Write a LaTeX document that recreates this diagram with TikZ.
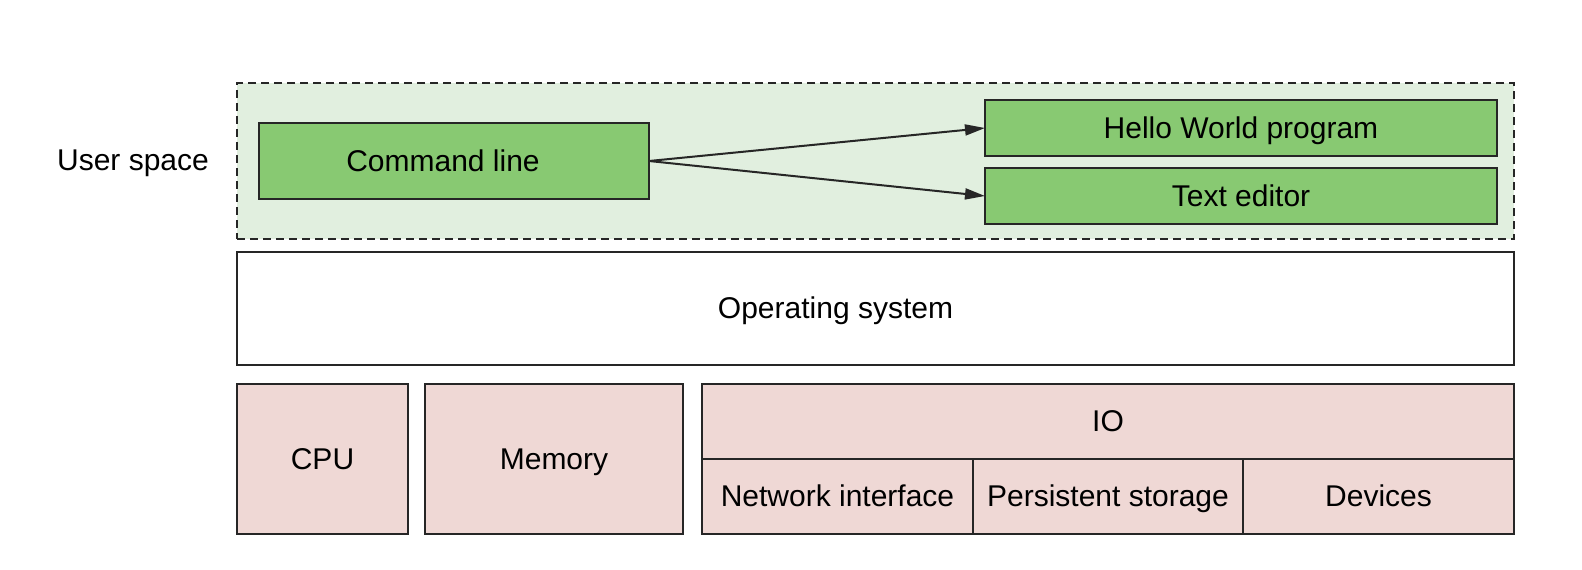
\documentclass[tikz,border=0pt]{standalone}
\usepackage{fontspec}
\setmainfont{Liberation Sans}
\usetikzlibrary{arrows.meta}
\definecolor{strk}{HTML}{262626}
\definecolor{gfill}{HTML}{88C972}
\definecolor{lgfill}{HTML}{E1EFDF}
\definecolor{pfill}{HTML}{EFD8D5}
\tikzset{
  txt/.style={font=\fontsize{30}{36}\selectfont, text height=27.2pt, text depth=6.4pt},
  box/.style={txt, draw=strk, line width=2pt, rectangle, inner sep=0pt, outer sep=0pt, anchor=north west},
  greenbox/.style={box, fill=gfill},
  pinkbox/.style={box, fill=pfill},
  osbox/.style={box, fill=white},
  userarea/.style={draw=strk, line width=2pt, fill=lgfill, dash pattern=on 8pt off 5pt, inner sep=0pt, outer sep=0pt, anchor=north west},
  arr/.style={draw=strk, line width=2pt, -{Triangle[length=20pt,width=11pt]}},
  lbl/.style={txt, inner sep=0pt}
}
\begin{document}
\begin{tikzpicture}[x=1pt,y=-1pt]
\useasboundingbox (0,0) rectangle (1582,570);
\fill[white] (0,0) rectangle (1582,570);
% user space area
\node[userarea, minimum width=1277pt, minimum height=156pt] (us) at (237,83) {};
\node[lbl] (uslbl) at (133,160) {User space};
\node[greenbox, minimum width=390pt, minimum height=76pt] (cmd) at (259,123) {};
\node[lbl] (cmdlbl) at ([xshift=-11pt]cmd.center) {Command line};
\node[greenbox, minimum width=512pt, minimum height=56pt] (hello) at (985,100) {Hello World program};
\node[greenbox, minimum width=512pt, minimum height=56pt] (edit) at (985,168) {Text editor};
\draw[arr] (cmd.east) -- (hello.west);
\draw[arr] (cmd.east) -- (edit.west);
% operating system
\node[osbox, minimum width=1277pt, minimum height=113pt] (os) at (237,252) {};
\node[lbl] (oslbl) at ([xshift=-40pt]os.center) {Operating system};
% hardware
\node[pinkbox, minimum width=171pt, minimum height=150pt] (cpu) at (237,384) {CPU};
\node[pinkbox, minimum width=258pt, minimum height=150pt] (mem) at (425,384) {Memory};
\node[pinkbox, minimum width=812pt, minimum height=75pt] (io) at (702,384) {IO};
\node[pinkbox, minimum width=271pt, minimum height=75pt] (net) at (702,459) {Network interface};
\node[pinkbox, minimum width=270pt, minimum height=75pt] (per) at (973,459) {Persistent storage};
\node[pinkbox, minimum width=271pt, minimum height=75pt] (dev) at (1243,459) {Devices};
\end{tikzpicture}
\end{document}
